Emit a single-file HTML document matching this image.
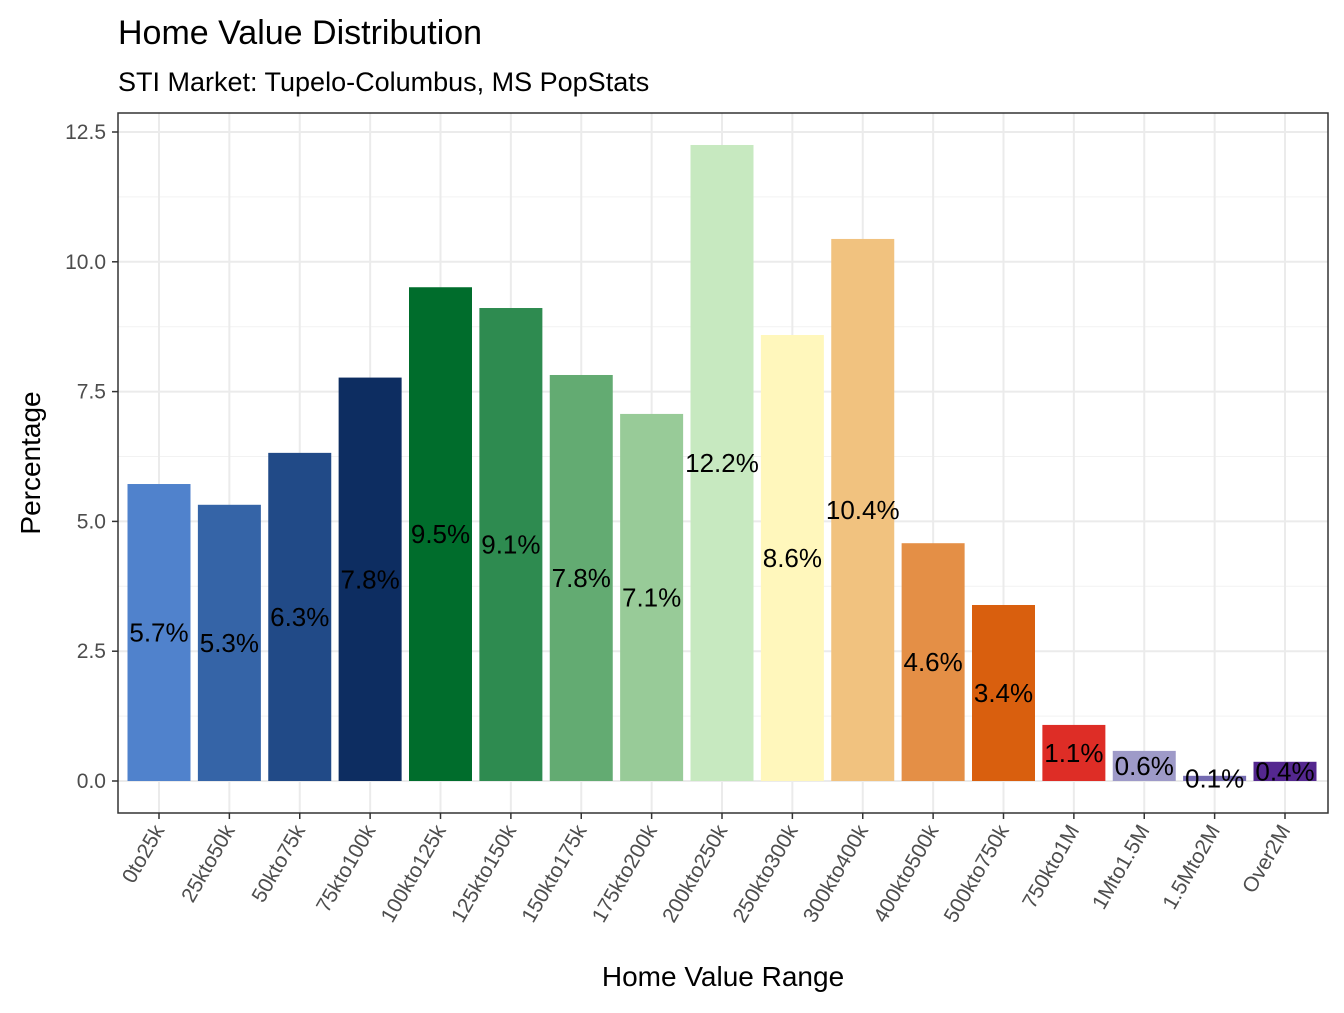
<!DOCTYPE html>
<html><head><meta charset="utf-8"><style>
body{margin:0;background:#fff;font-family:"Liberation Sans",Arial,sans-serif}
</style></head><body>
<svg id="chart" width="1344" height="1008" xmlns="http://www.w3.org/2000/svg" font-family="Liberation Sans, Arial, sans-serif">
<text x="118" y="44" font-size="34" fill="#000">Home Value Distribution</text>
<text x="118" y="91" font-size="27" fill="#000">STI Market: Tupelo-Columbus, MS PopStats</text>
<g id="grid"></g><g id="bars"></g><g id="labels"></g><g id="axes"></g>
<rect x="118" y="113" width="1210" height="700" fill="none" stroke="#333" stroke-width="1.5"/>
<text x="723" y="986" font-size="28" text-anchor="middle">Home Value Range</text>
<text transform="translate(40,463) rotate(-90)" font-size="28" text-anchor="middle">Percentage</text>
</svg>
<script>
const categories=["0to25k","25kto50k","50kto75k","75kto100k","100kto125k","125kto150k","150kto175k","175kto200k","200kto250k","250kto300k","300kto400k","400kto500k","500kto750k","750kto1M","1Mto1.5M","1.5Mto2M","Over2M"];
const values=[5.72,5.32,6.32,7.77,9.51,9.11,7.82,7.07,12.25,8.59,10.44,4.58,3.39,1.08,0.58,0.1,0.37];
const valueLabels=["5.7%","5.3%","6.3%","7.8%","9.5%","9.1%","7.8%","7.1%","12.2%","8.6%","10.4%","4.6%","3.4%","1.1%","0.6%","0.1%","0.4%"];
const colors=["#5082CC","#3564A7","#214A87","#0D2D61","#006D2C","#2E8B50","#63AB72","#98CB98","#C7E9C0","#FFF7BC","#F1C27F","#E48F46","#D95F0E","#DE2D26","#9E9AC8","#756BB1","#54278F"];
const yTicks=[0,2.5,5,7.5,10,12.5];
const yTickLabels=["0.0","2.5","5.0","7.5","10.0","12.5"];
const NS="http://www.w3.org/2000/svg";
const y0=781,pxPerUnit=51.92,xStart=159,step=70.375,bw=63;
const yS=v=>y0-v*pxPerUnit, xS=i=>xStart+i*step;
function mk(tag,attrs,parent){const e=document.createElementNS(NS,tag);for(const k in attrs)e.setAttribute(k,attrs[k]);parent.appendChild(e);return e;}
const grid=document.getElementById('grid'),bars=document.getElementById('bars'),labels=document.getElementById('labels'),axes=document.getElementById('axes');
for(let t=1.25;t<13;t+=2.5){const l=mk('line',{x1:118,x2:1328,y1:yS(t),y2:yS(t),stroke:'#F2F2F2','stroke-width':1},grid);

}
yTicks.forEach((t,i)=>{const l=mk('line',{x1:118,x2:1328,y1:yS(t),y2:yS(t),stroke:'#EBEBEB','stroke-width':2},grid);


const tk=mk('line',{x1:112,x2:118,y1:yS(t),y2:yS(t),stroke:'#333','stroke-width':1.5},axes);


const tx=mk('text',{x:106,y:yS(t)+7,'font-size':21,fill:'#4D4D4D','text-anchor':'end'},axes);tx.textContent=yTickLabels[i];

});
categories.forEach((c,i)=>{const x=xS(i);
const g=mk('line',{x1:x,x2:x,y1:113,y2:813,stroke:'#EBEBEB','stroke-width':2},grid);


const r=mk('rect',{x:x-bw/2,y:yS(values[i]),width:bw,height:yS(0)-yS(values[i]),fill:colors[i]},bars);


const lb=mk('text',{x:x,y:yS(values[i]/2)+9,'font-size':26,'text-anchor':'middle',fill:'#000'},labels);lb.textContent=valueLabels[i];


const tk=mk('line',{x1:x,x2:x,y1:813,y2:819,stroke:'#333','stroke-width':1.5},axes);


const tx=mk('text',{transform:`translate(${x+6},${830}) rotate(-60)`,'font-size':21,fill:'#4D4D4D','text-anchor':'end'},axes);tx.textContent=c;

});
</script>
</body></html>
